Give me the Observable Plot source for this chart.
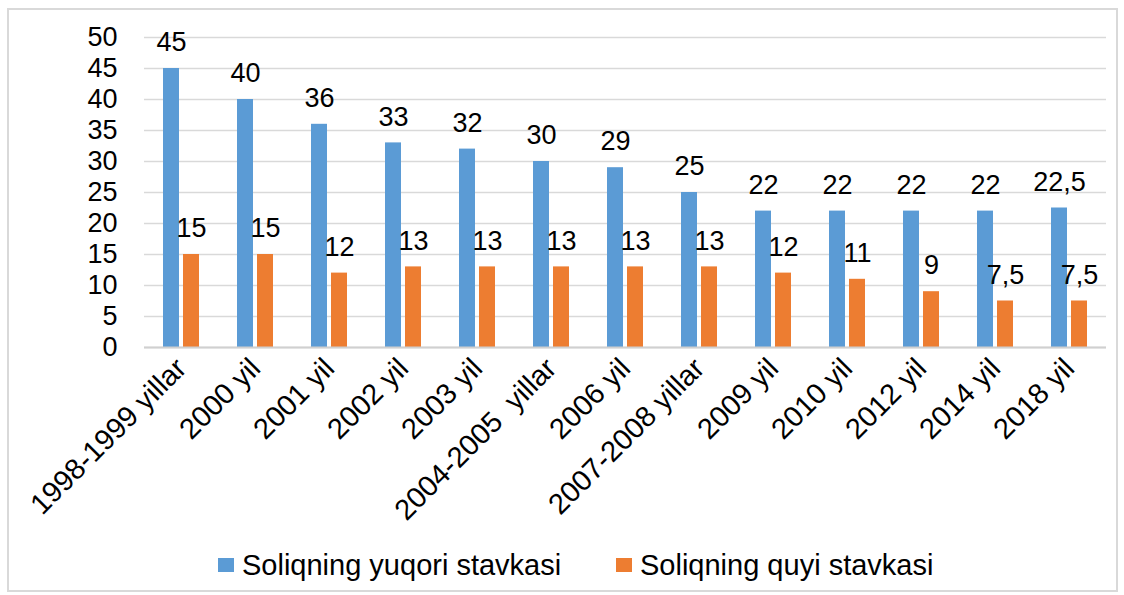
<!DOCTYPE html>
<html>
<head>
<meta charset="utf-8">
<script src="https://cdn.jsdelivr.net/npm/d3@7"></script>
<script src="https://cdn.jsdelivr.net/npm/@observablehq/plot@0.6"></script>
<style>
  html, body { margin: 0; padding: 0; background: #fff; }
  #wrap { position: relative; width: 1124px; height: 595px; overflow: hidden; font-family: 'Liberation Sans', sans-serif; }
  #frame { position: absolute; left: 7px; top: 8px; width: 1111px; height: 584px; box-sizing: border-box; border: 2px solid #d9d9d9; }
  #chart { position: absolute; left: 0; top: 0; }
  #legend { position: absolute; top: 545px; left: 0; width: 1124px; height: 40px; font-size: 29px; color: #000; }
  .item { position: absolute; top: 0; display: flex; align-items: center; height: 40px; white-space: nowrap; }
  .sw { width: 16px; height: 14px; margin-right: 8px; }
</style>
</head>
<body>
<div id="wrap">
  <div id="frame"></div>
  <div id="chart"></div>
  <div id="legend"></div>
</div>
<script>
const categories = ["1998-1999 yillar", "2000 yil", "2001 yil", "2002 yil", "2003 yil", "2004-2005\u00a0 yillar", "2006 yil", "2007-2008 yillar", "2009 yil", "2010 yil", "2012 yil", "2014 yil", "2018 yil"];
const upperRate = [45, 40, 36, 33, 32, 30, 29, 25, 22, 22, 22, 22, 22.5];
const lowerRate = [15, 15, 12, 13, 13, 13, 13, 13, 12, 11, 9, 7.5, 7.5];
const seriesNames = ["Soliqning yuqori stavkasi", "Soliqning quyi stavkasi"];
const seriesColors = ["#5b9bd5", "#ed7d31"];
const yTicks = [0, 5, 10, 15, 20, 25, 30, 35, 40, 45, 50];

const fmt = v => String(v).replace(".", ",");
const rows = [];
categories.forEach((c, i) => {
  rows.push({cat: c, series: seriesNames[0], value: upperRate[i], label: fmt(upperRate[i])});
  rows.push({cat: c, series: seriesNames[1], value: lowerRate[i], label: fmt(lowerRate[i])});
});

const chart = Plot.plot({
  width: 1124,
  height: 530,
  marginTop: 37,
  marginBottom: 183,
  marginLeft: 143,
  marginRight: 18,
  style: {fontFamily: "'Liberation Sans', sans-serif", fontSize: "27px", color: "#000", background: "transparent"},
  fx: {domain: categories, padding: 0, label: null},
  x: {domain: seriesNames, paddingInner: 0.2, paddingOuter: 0.9, axis: null},
  y: {domain: [0, 50], ticks: yTicks, tickSize: 0, tickPadding: 27, label: null},
  color: {domain: seriesNames, range: seriesColors},
  marks: [
    Plot.ruleY(yTicks, {stroke: "#d9d9d9", strokeWidth: 1.5}),
    Plot.barY(rows, {fx: "cat", x: "series", y: "value", fill: "series"}),
    Plot.ruleY([0], {stroke: "#d0d0d0", strokeWidth: 2}),
    Plot.text(rows, {fx: "cat", x: "series", y: "value", text: "label", lineAnchor: "middle", dy: -26, fill: "#000"}),
    Plot.axisFx({anchor: "bottom", tickRotate: -45, tickSize: 0, tickPadding: 16, fontSize: 29, label: null})
  ]
});
document.getElementById("chart").appendChild(chart);

const legend = document.getElementById("legend");
const legendX = [218, 616];
seriesNames.forEach((name, i) => {
  const item = document.createElement("div");
  item.className = "item";
  item.style.left = legendX[i] + "px";
  const sw = document.createElement("span");
  sw.className = "sw";
  sw.style.background = seriesColors[i];
  const t = document.createElement("span");
  t.textContent = name;
  item.appendChild(sw);
  item.appendChild(t);
  legend.appendChild(item);
});
</script>
</body>
</html>
